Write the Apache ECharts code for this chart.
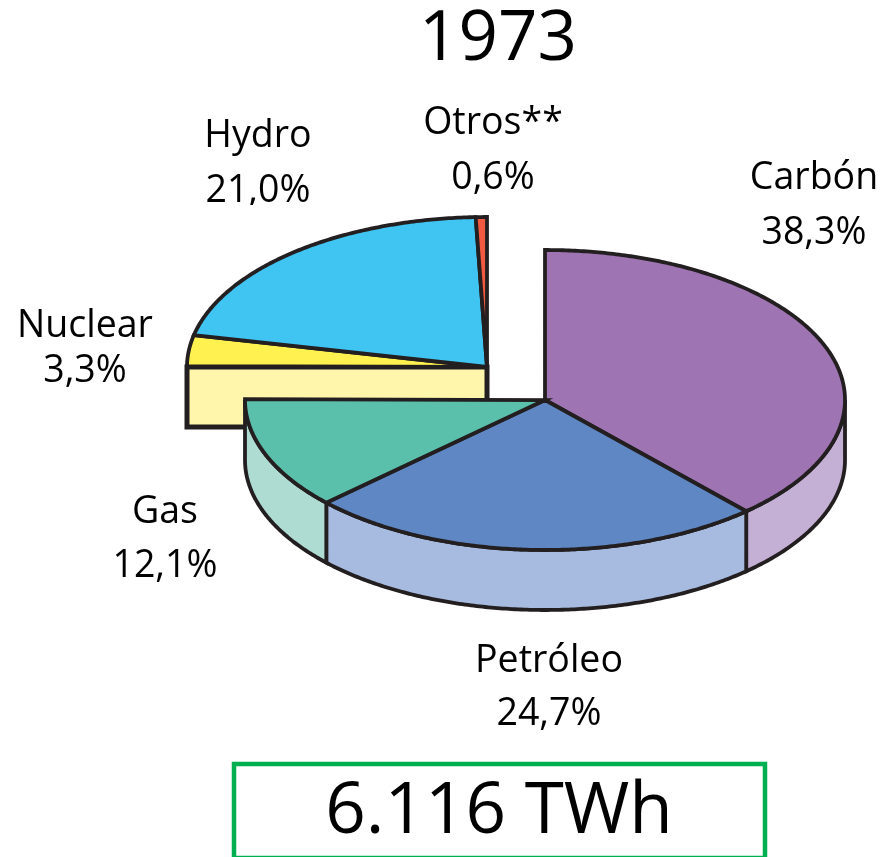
<!DOCTYPE html>
<html>
<head>
<meta charset="utf-8">
<style>
  html, body { margin: 0; padding: 0; background: #fff; }
  #chart { width: 882px; height: 857px; overflow: hidden; }
</style>
<script src="https://cdn.jsdelivr.net/npm/echarts@6/dist/echarts.min.js"></script>
</head>
<body>
<div id="chart"></div>
<script>
const year = '1973'
const total = '6.116 TWh'
const categories = ['Carbón', 'Petróleo', 'Gas', 'Nuclear', 'Hydro', 'Otros**']
const shares = [38.3, 24.7, 12.1, 3.3, 21.0, 0.6]
const topColors = ['#9e74b2', '#5e87c4', '#5bc0ab', '#fff14f', '#40c4f2', '#f15a40']
const sideColors = ['#c4afd5', '#a6bbdf', '#aedbd2', '#fff6ab', '#40c4f2', '#f15a40']

// first slice of the part pulled out of the pie
const pulledFrom = 3

// label anchors, same order as categories: [x, name y, share y]
const labelPos = [
  [814, 178, 233],
  [549, 661, 714],
  [165, 512, 566],
  [85, 326, 371],
  [258, 136, 191],
  [493, 123, 178]
]

const rx = 300
const ry = 150
const depth = 60
const lineColor = '#231f20'
const lineWidth = 3.8
const faceLineWidth = 5
const labelFont = '37.5px "Open Sans", sans-serif'

const rows = []
let running = 0
shares.forEach((v, i) => {
  rows.push([running, v, i])
  running += v
})

function rim(cx, cy, a0, a1) {
  const steps = Math.max(2, Math.ceil(Math.abs(a1 - a0) / 0.01))
  const pts = []
  for (let k = 0; k <= steps; k++) {
    const a = a0 + (a1 - a0) * k / steps
    pts.push([cx + rx * Math.sin(a), cy - ry * Math.cos(a)])
  }
  return pts
}

function poly(points, fill, width) {
  return {
    type: 'polygon',
    shape: { points },
    style: { fill, stroke: lineColor, lineWidth: width || lineWidth, lineJoin: 'miter', miterLimit: 10 }
  }
}

function sliceRenderer(cx, cy) {
  return function (params, api) {
    const start = api.value(0)
    const value = api.value(1)
    const i = api.value(2)
    const a0 = start / 100 * Math.PI * 2
    const a1 = (start + value) / 100 * Math.PI * 2
    const children = []

    if (i < pulledFrom) {
      // outer wall, only on the front half
      const w0 = Math.max(a0, Math.PI / 2)
      const w1 = Math.min(a1, Math.PI * 3 / 2)
      if (w1 > w0) {
        const upper = rim(cx, cy, w0, w1)
        const lower = rim(cx, cy + depth, w0, w1).reverse()
        children.push(poly(upper.concat(lower), sideColors[i]))
      }
    } else if (i === pulledFrom) {
      // flat cut face of the pulled out part
      const edge = cx + rx * Math.sin(a0)
      children.push(poly([[edge, cy], [cx, cy], [cx, cy + depth], [edge, cy + depth]], sideColors[i], faceLineWidth))
    }

    children.push(poly([[cx, cy]].concat(rim(cx, cy, a0, a1)), topColors[i]))
    return { type: 'group', children }
  }
}

const labelTexts = []
categories.forEach((name, i) => {
  const pos = labelPos[i]
  labelTexts.push({
    type: 'text', x: pos[0], y: pos[1], z: 10,
    style: { text: name, fill: '#000', font: labelFont, align: 'center', verticalAlign: 'middle' }
  })
  labelTexts.push({
    type: 'text', x: pos[0], y: pos[2], z: 10,
    style: { text: shares[i].toFixed(1).replace('.', ',') + '%', fill: '#000', font: labelFont, align: 'center', verticalAlign: 'middle' }
  })
})

const chart = echarts.init(document.getElementById('chart'), null, { renderer: 'canvas' })
chart.setOption({
  animation: false,
  backgroundColor: '#fff',
  title: {
    text: year,
    left: 493,
    top: 1,
    textAlign: 'center',
    textStyle: { fontFamily: 'Open Sans', fontSize: 69, fontWeight: 'normal', color: '#000' }
  },
  series: [
    {
      type: 'custom',
      coordinateSystem: 'none',
      silent: true,
      z: 2,
      data: rows.slice(pulledFrom),
      renderItem: sliceRenderer(487, 367)
    },
    {
      type: 'custom',
      coordinateSystem: 'none',
      silent: true,
      z: 3,
      data: rows.slice(0, pulledFrom),
      renderItem: sliceRenderer(545, 400)
    }
  ],
  graphic: labelTexts.concat([
    // the reference cuts the bottom of the Hydro share off
    { type: 'rect', shape: { x: 200, y: 205, width: 120, height: 8 }, style: { fill: '#fff' }, z: 11 },
    {
      type: 'rect', z: 10,
      shape: { x: 234, y: 764, width: 531, height: 94 },
      style: { fill: '#fff', stroke: '#00b050', lineWidth: 4.5 }
    },
    {
      type: 'text', x: 499, y: 813, z: 11,
      style: { text: total, fill: '#000', font: '71px "Open Sans", sans-serif', align: 'center', verticalAlign: 'middle' }
    }
  ])
})
</script>
</body>
</html>
